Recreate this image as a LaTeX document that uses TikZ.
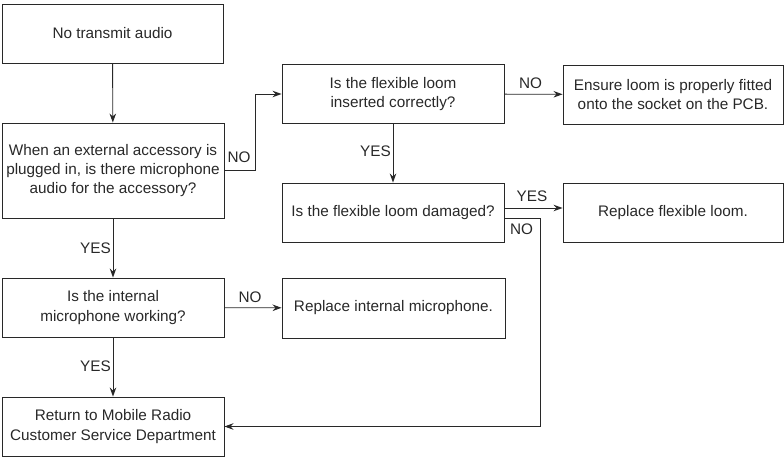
\documentclass[tikz,border=0pt]{standalone}
\usepackage{fontspec}
\setmainfont{Liberation Sans}
\usetikzlibrary{arrows.meta,calc}
\definecolor{ink}{RGB}{40,40,40}
\begin{document}
\begin{tikzpicture}[x=1pt,y=-1pt,
  every node/.style={font=\fontsize{15.3}{19.3}\selectfont, text=ink},
  stepbox/.style={draw=ink, line width=0.9pt, rectangle, align=center, inner sep=0pt,
                  minimum width=222pt, minimum height=59pt},
  flow/.style={draw=ink, line width=0.9pt, -{Stealth[length=9pt,width=6.5pt]}},
  tag/.style={inner sep=0pt}]
\useasboundingbox (0,0) rectangle (784,457);

% left column
\node[stepbox, minimum width=221pt] (start) at (112.5,33.5) {No transmit audio};
\node[stepbox, minimum height=95pt] (ext) at (113,170.5)
  {When an external accessory is\\plugged in, is there microphone\\audio for the accessory?};
\node[stepbox] (intmic) at (113,307.5) {Is the internal\\microphone working?};
\node[stepbox] (ret) at (113,426.5) {Return to Mobile Radio\\Customer Service Department};

% middle column
\node[stepbox] (inserted) at (393,94) {Is the flexible loom\\inserted correctly?};
\node[stepbox] (damaged) at (393,212.5) {Is the flexible loom damaged?};
\node[stepbox, minimum width=223pt, minimum height=60pt] (replmic) at (393.5,308) {Replace internal microphone.};

% right column
\node[stepbox, minimum width=220pt] (fit) at (673,94.5) {Ensure loom is properly fitted\\onto the socket on the PCB.};
\node[stepbox, minimum width=220pt] (replloom) at (673,212.5) {Replace flexible loom.};

\coordinate (nocorner) at (540,426.5);

% connectors
\draw[flow] (start) -- (ext);
\draw[flow] (ext.east) -- ++(31,0) |- (inserted.west);
\draw[flow] (ext) -- (intmic);
\draw[flow] (intmic) -- (ret);
\draw[flow] (intmic) -- (replmic);
\draw[flow] (inserted) -- (fit);
\draw[flow] (inserted) -- (damaged);
\draw[flow] ([yshift=4.5pt]damaged.east) -- ([yshift=4.5pt]replloom.west);
\draw[flow] ([yshift=-5.5pt]damaged.east) -| (nocorner) -- (ret.east);

% answer labels
\node[tag] (l1) at (239,157) {NO};
\node[tag] (l2) at (530.5,83) {NO};
\node[tag, anchor=east] (l3) at (391,151) {YES};
\node[tag] (l4) at (532,196) {YES};
\node[tag] (l5) at (521.5,229) {NO};
\node[tag, anchor=east] (l6) at (111,248) {YES};
\node[tag] (l7) at (250,297) {NO};
\node[tag, anchor=east] (l8) at (111,366) {YES};
\end{tikzpicture}
\end{document}
